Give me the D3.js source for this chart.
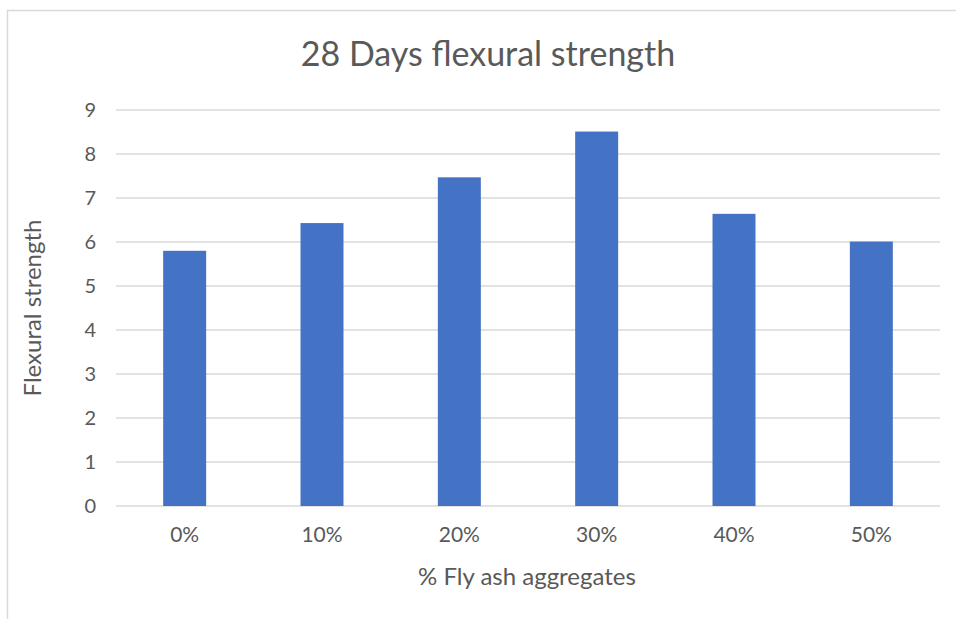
<!DOCTYPE html>
<html>
<head>
<meta charset="utf-8">
<script src="https://cdn.jsdelivr.net/npm/d3@7"></script>
<style>
  body { margin: 0; background: #fff; }
  svg text { font-family: Lato, "Open Sans", sans-serif; fill: #595959; }
</style>
</head>
<body>
<svg></svg>
<script>
/*
*  DATA
*/
let categories = ['0%', '10%', '20%', '30%', '40%', '50%']
let strength = [5.8, 6.43, 7.47, 8.51, 6.64, 6.01]
let yTicks = [0, 1, 2, 3, 4, 5, 6, 7, 8, 9]

let width = 956,
    height = 619

let svg = d3.select('svg').attr('width', width).attr('height', height)

// chart frame (excel-like border)
svg.append('rect')
  .attr('x', 7.5).attr('y', 10.5)
  .attr('width', width + 10).attr('height', height + 10)
  .attr('fill', 'none')
  .attr('stroke', '#d9d9d9')
  .attr('stroke-width', 1.5)

let plot = {left: 116, right: 940, top: 110, bottom: 506}

let x = d3.scaleBand()
  .domain(categories)
  .range([plot.left, plot.right])
  .paddingInner(0.687)
  .paddingOuter(0.3435)

let y = d3.scaleLinear()
  .domain([0, 9])
  .range([plot.bottom, plot.top])

// gridlines
svg.append('g').attr('class', 'grid')
  .selectAll('line')
  .data(yTicks)
  .enter()
  .append('line')
  .attr('x1', plot.left).attr('x2', plot.right)
  .attr('y1', d => y(d)).attr('y2', d => y(d))
  .attr('stroke', '#d9d9d9')
  .attr('stroke-width', 1.3)

// bars
svg.append('g').attr('class', 'bars')
  .selectAll('rect')
  .data(strength)
  .enter()
  .append('rect')
  .attr('x', (d, i) => x(categories[i]))
  .attr('width', x.bandwidth())
  .attr('y', d => y(d))
  .attr('height', d => y(0) - y(d))
  .attr('fill', '#4472c4')

// y axis labels
let yAxis = d3.axisLeft(y).tickValues(yTicks).tickSize(0).tickPadding(20)
let ya = svg.append('g').attr('transform', `translate(${plot.left},0)`).call(yAxis)
ya.select('.domain').remove()
ya.selectAll('text').attr('font-size', 20).style('font-family', null)

// x axis labels
let xAxis = d3.axisBottom(x).tickSize(0).tickPadding(21)
let xa = svg.append('g').attr('transform', `translate(0,${plot.bottom})`).call(xAxis)
xa.select('.domain').remove()
xa.selectAll('text').attr('font-size', 21).style('font-family', null)

// titles
svg.append('text')
  .attr('x', 488).attr('y', 66)
  .attr('text-anchor', 'middle')
  .attr('font-size', 34)
  .text('28 Days flexural strength')

svg.append('text')
  .attr('x', 527).attr('y', 585)
  .attr('text-anchor', 'middle')
  .attr('font-size', 24)
  .text('% Fly ash aggregates')

svg.append('text')
  .attr('transform', 'translate(41,308) rotate(-90)')
  .attr('text-anchor', 'middle')
  .attr('font-size', 24)
  .text('Flexural strength')
</script>
</body>
</html>
